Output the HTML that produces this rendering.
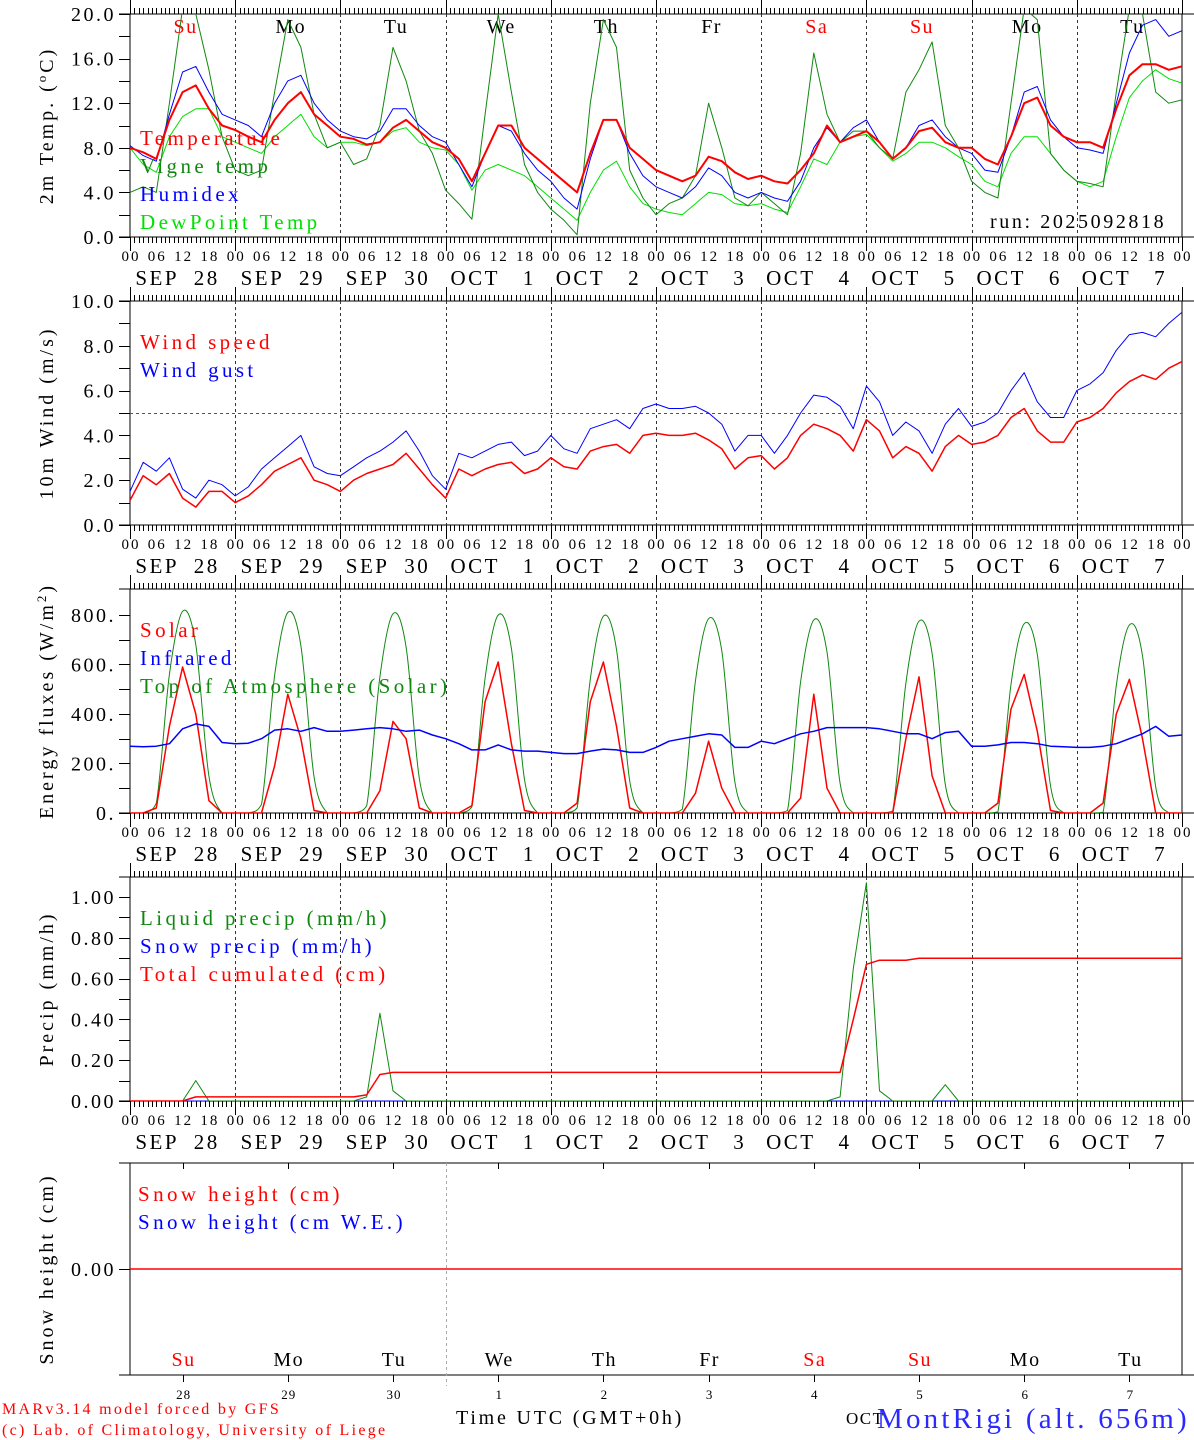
<!DOCTYPE html>
<html><head><meta charset="utf-8">
<style>
html,body{margin:0;padding:0;background:#fff;}
svg{display:block;font-family:"Liberation Serif",serif;}
</style></head>
<body>
<svg id="chart" width="1194" height="1440" viewBox="0 0 1194 1440" xmlns="http://www.w3.org/2000/svg"></svg>
<script>
// ---- data (3-hourly, Sep 28 00UTC .. Oct 8 00UTC, 81 points) ----
const dayNames = ["Su","Mo","Tu","We","Th","Fr","Sa","Su","Mo","Tu"];
const dayColors = ["red","black","black","black","black","black","red","red","black","black"];
const dateLabels = ["SEP  28","SEP  29","SEP  30","OCT   1","OCT   2","OCT   3","OCT   4","OCT   5","OCT   6","OCT   7"];
const dayNums = ["28","29","30","1","2","3","4","5","6","7"];
const hourLabels = ["00","06","12","18"];

const temperature = [8.0,7.6,7.0,10.5,13.0,13.6,11.5,10.0, 9.6,9.0,8.5,10.5,12.0,13.0,11.0,10.0, 9.0,8.8,8.3,8.5,9.8,10.5,9.5,8.5, 8.0,7.0,5.0,7.5,10.0,10.0,8.0,7.0, 6.0,5.0,4.0,7.5,10.5,10.5,8.0,7.0, 6.0,5.5,5.0,5.5,7.2,6.8,5.8,5.2, 5.5,5.0,4.8,6.0,7.5,10.0,8.5,9.0, 9.5,8.5,7.0,8.0,9.5,9.8,8.5,8.0, 8.0,7.0,6.5,9.0,12.0,12.5,10.0,9.0, 8.5,8.5,8.0,11.5,14.5,15.5,15.5,15.0, 15.3];
const vigne = [4.0,4.5,4.0,12,20.5,20,15,9, 6,5.5,6,13,19.5,17,11,8, 8.5,6.5,7,10,17,14,9.5,7.5, 4.2,3,1.6,11,20,13,6.5,4, 2.5,1.5,0.2,12,19.5,17,6,3.5, 2,3,3.5,5.5,12,8,3.5,2.8, 4,3,2,7.5,16.5,11,8.5,9.5, 9.5,8,7,13,15,17.5,10,8, 5,4,3.5,12,20.5,19.5,7.5,6, 5,4.8,4.5,13,20.5,20,13,12, 12.3];
const humidex = [8.2,7.3,6.8,11,14.8,15.3,13,11, 10.5,10,9,12,14,14.5,12,10.5, 9.5,9,8.8,9.5,11.5,11.5,10,9, 8.5,6.5,4.5,7.5,10,9.5,7.5,6, 5,3.5,2.5,7,10.5,10.5,7.5,5.5, 4.5,4,3.5,4.5,6.2,5.5,4,3.5, 4,3.5,3.2,5,8,9.8,8.5,9.8, 10.5,8.5,7,8,10,10.5,9,8, 7.5,6,5.8,9,13,13.5,10.5,9, 8,7.8,7.5,12,16.5,19,19.5,18, 18.5];
const dewpoint = [8,6.5,5.8,9,10.8,11.5,11.5,9, 8.5,8,7.5,9,10,11,9,8, 8.5,8.5,8.2,8.5,9.5,9.8,8.5,8, 7.8,6.5,4.2,6,6.5,6,5.5,4.5, 3.5,2.5,1.5,4,6,6.8,4.5,3, 2.5,2.2,2,3,4,3.8,3,2.8, 3,2.5,2.2,4.5,7,6.5,8.5,9, 9.2,8,6.8,7.5,8.5,8.5,8,7.2, 6.5,5,4.5,7.5,9,9,7.5,6, 5,4.5,5,9,12.5,14,15,14.2, 13.8];

const windSpeed = [1.1,2.2,1.8,2.3,1.2,0.8,1.5,1.5, 1.0,1.3,1.8,2.4,2.7,3.0,2.0,1.8, 1.5,2.0,2.3,2.5,2.7,3.2,2.5,1.8, 1.2,2.5,2.2,2.5,2.7,2.8,2.3,2.5, 3.0,2.6,2.5,3.3,3.5,3.6,3.2,4.0, 4.1,4.0,4.0,4.1,3.8,3.4,2.5,3.0, 3.1,2.5,3.0,4.0,4.5,4.3,4.0,3.3, 4.7,4.2,3.0,3.5,3.2,2.4,3.5,4.0, 3.6,3.7,4.0,4.8,5.2,4.2,3.7,3.7, 4.6,4.8,5.2,5.9,6.4,6.7,6.5,7.0, 7.3];
const windGust = [1.5,2.8,2.4,3.0,1.6,1.2,2.0,1.8, 1.3,1.7,2.5,3.0,3.5,4.0,2.6,2.3, 2.2,2.6,3.0,3.3,3.7,4.2,3.3,2.2, 1.6,3.2,3.0,3.3,3.6,3.7,3.1,3.3, 4.0,3.4,3.2,4.3,4.5,4.7,4.3,5.2, 5.4,5.2,5.2,5.3,5.0,4.5,3.3,4.0, 4.0,3.2,4.0,5.0,5.8,5.7,5.3,4.3, 6.2,5.5,4.0,4.6,4.2,3.2,4.5,5.2, 4.4,4.6,5.0,6.0,6.8,5.5,4.8,4.8, 6.0,6.3,6.8,7.8,8.5,8.6,8.4,9.0, 9.5];

const solar = [0,0,20,350,590,400,50,0, 0,0,0,190,480,300,10,0, 0,0,0,90,370,300,20,0, 0,0,30,450,610,280,10,0, 0,0,40,450,610,350,20,0, 0,0,0,80,290,100,0,0, 0,0,0,60,480,100,0,0, 0,0,0,300,550,150,0,0, 0,0,40,420,560,330,10,0, 0,0,40,400,540,300,0,0, 0];
const infrared = [270,268,270,280,340,360,350,285, 280,282,300,335,340,330,345,330, 330,335,340,345,340,330,335,315, 300,280,255,255,275,255,250,250, 245,240,240,250,258,255,245,245, 265,290,300,310,320,315,265,265, 290,280,300,320,330,345,345,345, 345,340,330,320,320,300,325,330, 270,270,275,285,285,280,270,268, 265,265,270,280,300,320,350,310, 315];
const toa = [0,0,40,560,815,680,150,0, 0,0,35,555,810,675,145,0, 0,0,30,550,805,670,140,0, 0,0,25,545,800,665,135,0, 0,0,20,540,795,660,130,0, 0,0,15,535,785,655,125,0, 0,0,10,530,780,650,120,0, 0,0,8,525,775,645,115,0, 0,0,5,520,765,640,110,0, 0,0,3,515,760,635,105,0, 0];

const liquidPrecip = [0,0,0,0,0,0.10,0,0, 0,0,0,0,0,0,0,0, 0,0,0.02,0.43,0.05,0,0,0, 0,0,0,0,0,0,0,0, 0,0,0,0,0,0,0,0, 0,0,0,0,0,0,0,0, 0,0,0,0,0,0,0.02,0.65, 1.07,0.05,0,0,0,0,0.08,0, 0,0,0,0,0,0,0,0, 0,0,0,0,0,0,0,0, 0];
const snowPrecip = new Array(81).fill(0);
const totalCum = [0,0,0,0,0,0.02,0.02,0.02, 0.02,0.02,0.02,0.02,0.02,0.02,0.02,0.02, 0.02,0.02,0.03,0.13,0.14,0.14,0.14,0.14, 0.14,0.14,0.14,0.14,0.14,0.14,0.14,0.14, 0.14,0.14,0.14,0.14,0.14,0.14,0.14,0.14, 0.14,0.14,0.14,0.14,0.14,0.14,0.14,0.14, 0.14,0.14,0.14,0.14,0.14,0.14,0.14,0.40, 0.67,0.69,0.69,0.69,0.70,0.70,0.70,0.70, 0.70,0.70,0.70,0.70,0.70,0.70,0.70,0.70, 0.70,0.70,0.70,0.70,0.70,0.70,0.70,0.70, 0.70];
const snowHeight = new Array(81).fill(0);

// ---- helpers ----
const NS = "http://www.w3.org/2000/svg";
const svg = document.getElementById('chart');
const X0 = 130, X1 = 1182;
function xAt(i){ return X0 + i*(X1-X0)/80; }
function xHour(h){ return X0 + h*(X1-X0)/240; }
function mk(tag, attrs, parent){
  const e = document.createElementNS(NS, tag);
  for (const k in attrs) e.setAttribute(k, attrs[k]);
  (parent||svg).appendChild(e);
  return e;
}
function txt(s, x, y, size, color, anchor, parent, ls){
  const t = mk('text', {x:x, y:y, 'font-size':size, fill:color||'#000', 'text-anchor':anchor||'start'}, parent);
  t.setAttribute('xml:space','preserve');
  t.style.whiteSpace = 'pre';
  if (ls) t.style.letterSpacing = ls + 'px';
  t.textContent = s;
  return t;
}

function panel(cfg){
  const g = mk('g', {});
  
  
  const yv = v => cfg.bottom - (v - cfg.min) * (cfg.bottom - cfg.top) / (cfg.max - cfg.min);
  cfg.yv = yv;
  const fr = mk('path', {d:`M119 ${cfg.top}H1194M119 ${cfg.bottom}H1194M130 ${cfg.top}V${cfg.bottom}M1182 ${cfg.top}V${cfg.bottom}`, stroke:'#000', 'stroke-width':1, fill:'none'}, g);
  
  
  let dd = '';
  for (let d=1; d<10; d++){ const x = Math.round(xHour(d*24))+0.5; dd += `M${x} ${cfg.top}V${cfg.bottom}`; }
  const sep = mk('path', {d:dd, stroke: cfg.sepColor||'#333', 'stroke-width':1, 'stroke-dasharray':'3,3', fill:'none'}, g);
  
  
  if (cfg.hourly){
    let td = '';
    for (let h=0; h<=240; h++){
      const x = Math.round(xHour(h))+0.5;
      const big = h%24===0;
      td += `M${x} ${cfg.top}V${cfg.top-(big?14:6)}M${x} ${cfg.bottom}V${cfg.bottom+(big?14:6)}`;
    }
    const tk = mk('path', {d:td, stroke:'#000', 'stroke-width':1, fill:'none'}, g);
    
    
    const lab = mk('g', {}, g);
    
    
    for (let d=0; d<10; d++){
      for (let k=0; k<4; k++) txt(hourLabels[k], xHour(d*24+k*6)+1, cfg.bottom+24, 15, '#000', 'middle', lab, 2);
      txt(dateLabels[d], xHour(d*24+12)-5, cfg.bottom+48, 21, '#000', 'middle', lab, 2.5);
    }
    txt("00", xHour(240)+1, cfg.bottom+24, 15, '#000', 'middle', lab, 2);
  }
  let yd = '';
  cfg.minor.forEach(v => { const y = Math.round(yv(v))+0.5; yd += `M119 ${y}H130`; });
  const yt = mk('path', {d:yd, stroke:'#000', 'stroke-width':1, fill:'none'}, g);
  
  
  const yl = mk('g', {}, g);
  
  
  cfg.ticks.forEach((v,i) => txt(cfg.tickLabels[i], 116, yv(v)+7, 20, '#000', 'end', yl, 2.5));
  const cy = (cfg.top+cfg.bottom)/2;
  const tt = mk('text', {x:0, y:0, 'font-size':20, 'text-anchor':'middle', transform:`translate(53 ${cy}) rotate(-90)`}, g);
  tt.style.letterSpacing = '3px';
  
  
  tt.innerHTML = cfg.title;
  return g;
}

function series(g, cfg, arr, color, width, name, smooth){
  const pts = arr.map((v,i) => [xAt(i), cfg.yv(v)]);
  let d = 'M' + pts[0][0].toFixed(1) + ' ' + pts[0][1].toFixed(1);
  for (let i=1; i<pts.length; i++){
    if (smooth){
      const p0 = pts[Math.max(0,i-2)], p1 = pts[i-1], p2 = pts[i], p3 = pts[Math.min(pts.length-1,i+1)];
      const c1x = p1[0]+(p2[0]-p0[0])/6, c1y = Math.min(cfg.bottom, p1[1]+(p2[1]-p0[1])/6);
      const c2x = p2[0]-(p3[0]-p1[0])/6, c2y = Math.min(cfg.bottom, p2[1]-(p3[1]-p1[1])/6);
      d += `C${c1x.toFixed(1)} ${c1y.toFixed(1)} ${c2x.toFixed(1)} ${c2y.toFixed(1)} ${p2[0].toFixed(1)} ${p2[1].toFixed(1)}`;
    } else d += 'L' + pts[i][0].toFixed(1) + ' ' + pts[i][1].toFixed(1);
  }
  const p = mk('path', {d:d, stroke:color, 'stroke-width':width, fill:'none', 'stroke-linejoin':'round', 'clip-path':`url(#${cfg.clip})`}, g);
  
  
  return p;
}
function clip(id, top, bottom){
  const defs = mk('defs', {});
  const cp = mk('clipPath', {id:id}, defs);
  mk('rect', {x:130, y:top, width:1052, height:bottom-top}, cp);
}
function legend(g, items, x, y0, step){
  items.forEach((it,i) => {
    const t = txt(it[0], x, y0 + i*step, 21, it[1], 'start', g, 3.4);
    
    
  });
}

// ---- Panel 1 ----
const c1 = {name:'temperature-panel', top:14, bottom:237, min:0, max:20, hourly:true, clip:'cp1',
  ticks:[0,4,8,12,16,20], tickLabels:["0.0","4.0","8.0","12.0","16.0","20.0"], minor:[0,2,4,6,8,10,12,14,16,18,20],
  title:'2m Temp. (<tspan font-size="13" dy="-7">o</tspan><tspan dy="7">C)</tspan>'};
clip('cp1', c1.top, c1.bottom);
const g1 = panel(c1);
for (let d=0; d<10; d++){
  const t = txt(dayNames[d], xHour(d*24+12)+3, 33, 20, dayColors[d]==='red'?'#f00':'#000', 'middle', g1, 1.5);
  
  
}
series(g1, c1, dewpoint, '#00e000', 1, 'dewpoint-line');
series(g1, c1, vigne, '#108810', 1, 'vigne-temp-line');
series(g1, c1, humidex, '#0000ff', 1, 'humidex-line');
series(g1, c1, temperature, '#ff0000', 2, 'temperature-line');
legend(g1, [["Temperature","#f00"],["Vigne temp","#108810"],["Humidex","#00f"],["DewPoint Temp","#00e000"]], 140, 145, 28);
const run = txt("run: 2025092818", 990, 228, 20, '#000', 'start', g1, 2.6);



// ---- Panel 2 ----
const c2 = {name:'wind-panel', top:301, bottom:525, min:0, max:10, hourly:true, clip:'cp2',
  ticks:[0,2,4,6,8,10], tickLabels:["0.0","2.0","4.0","6.0","8.0","10.0"], minor:[0,1,2,3,4,5,6,7,8,9,10],
  title:'10m Wind (m/s)'};
clip('cp2', c2.top, c2.bottom);
const g2 = panel(c2);
const ref = mk('line', {x1:130, x2:1182, y1:c2.yv(5)+0.5, y2:c2.yv(5)+0.5, stroke:'#555', 'stroke-dasharray':'3,3'}, g2);


series(g2, c2, windGust, '#0000ff', 1, 'wind-gust-line');
series(g2, c2, windSpeed, '#ff0000', 1.5, 'wind-speed-line');
legend(g2, [["Wind speed","#f00"],["Wind gust","#00f"]], 140, 349, 28);

// ---- Panel 3 ----
const c3 = {name:'energy-panel', top:589, bottom:813, min:0, max:905, hourly:true, clip:'cp3',
  ticks:[0,200,400,600,800], tickLabels:["0.","200.","400.","600.","800."], minor:[0,100,200,300,400,500,600,700,800],
  title:'Energy fluxes (W/m<tspan font-size="13" dy="-7">2</tspan><tspan dy="7">)</tspan>'};
clip('cp3', c3.top, c3.bottom);
const g3 = panel(c3);
series(g3, c3, toa, '#108810', 1, 'toa-solar-line', true);
series(g3, c3, solar, '#ff0000', 1.5, 'solar-line');
series(g3, c3, infrared, '#0000ff', 1.5, 'infrared-line');
legend(g3, [["Solar","#f00"],["Infrared","#00f"],["Top of Atmosphere (Solar)","#108810"]], 140, 637, 28);

// ---- Panel 4 ----
const c4 = {name:'precip-panel', top:877, bottom:1101, min:0, max:1.098, hourly:true, clip:'cp4',
  ticks:[0,0.2,0.4,0.6,0.8,1.0], tickLabels:["0.00","0.20","0.40","0.60","0.80","1.00"], minor:[0,0.1,0.2,0.3,0.4,0.5,0.6,0.7,0.8,0.9,1.0],
  title:'Precip (mm/h)'};
clip('cp4', c4.top, c4.bottom);
const g4 = panel(c4);
series(g4, c4, snowPrecip, '#0000ff', 1, 'snow-precip-line');
series(g4, c4, liquidPrecip, '#108810', 1, 'liquid-precip-line');
series(g4, c4, totalCum, '#ff0000', 1.5, 'total-cumulated-line');
legend(g4, [["Liquid precip (mm/h)","#108810"],["Snow precip (mm/h)","#00f"],["Total cumulated (cm)","#f00"]], 140, 925, 28);

// ---- Panel 5 ----
const c5 = {name:'snow-panel', top:1163, bottom:1375, min:-1, max:1, hourly:false, clip:'cp5', sepColor:'none',
  ticks:[0], tickLabels:["0.00"], minor:[0], title:'Snow height (cm)'};
clip('cp5', c5.top, c5.bottom);
const g5 = panel(c5);
const sep5 = mk('line', {x1:446.5, x2:446.5, y1:1163, y2:1386, stroke:'#aaa', 'stroke-dasharray':'3,3'}, g5);


let t5 = '';
for (let d=0; d<10; d++){ const x = Math.round(xHour(d*24+12))+0.5; t5 += `M${x} 1163V1169M${x} 1375V1382`; }
const tk5 = mk('path', {d:t5, stroke:'#000', 'stroke-width':1}, g5);


series(g5, c5, snowHeight, '#ff0000', 1.5, 'snow-height-line');
legend(g5, [["Snow height (cm)","#f00"],["Snow height (cm W.E.)","#00f"]], 138, 1201, 28);
for (let d=0; d<10; d++){
  const t = txt(dayNames[d], xHour(d*24+12)+1, 1366, 20, dayColors[d]==='red'?'#f00':'#000', 'middle', g5, 1.5);
  
  
  const n = txt(dayNums[d], xHour(d*24+12)+1, 1399, 13, '#000', 'middle', g5, 1);
  
  
}

// ---- footer ----
const f1 = txt("MARv3.14 model forced by GFS", 2, 1414, 16, '#f00', 'start', null, 2.3);


const f2 = txt("(c) Lab. of Climatology, University of Liege", 2, 1435, 16, '#f00', 'start', null, 2.3);


const f3 = txt("Time UTC (GMT+0h)", 456, 1424, 20, '#000', 'start', null, 2.8);


const f4 = txt("OCT", 846, 1424, 17, '#000', 'start', null, 1.5);


const f5 = txt("MontRigi (alt. 656m)", 877, 1428, 29, '#2a2aff', 'start', null, 3.2);


</script>
</body></html>
